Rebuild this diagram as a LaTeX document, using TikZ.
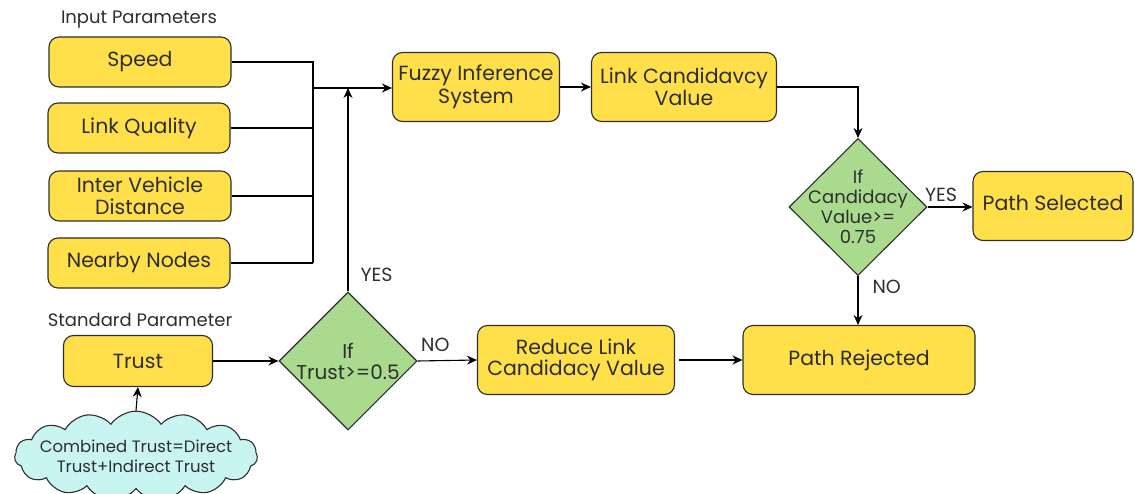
\documentclass[tikz,border=0pt]{standalone}
\usepackage{fontspec}
\setmainfont{Poppins}
\usetikzlibrary{arrows.meta,shapes.geometric,shapes.symbols}

\definecolor{boxyellow}{HTML}{FFE04B}
\definecolor{decgreen}{HTML}{A9DA8E}
\definecolor{cloudcyan}{HTML}{C8F5F1}
\definecolor{inkgray}{HTML}{2E2E2E}

\tikzset{
  parambox/.style={draw=inkgray,line width=1.1pt,fill=boxyellow,rounded corners=10pt,
    text=inkgray,align=center,font=\fontsize{20.5}{21.5}\selectfont,inner sep=0pt},
  decision/.style={draw=inkgray,line width=1.1pt,fill=decgreen,diamond,aspect=1,
    text=inkgray,align=center,inner sep=-40pt,minimum width=138pt,minimum height=138pt},
  flowline/.style={line width=1.1pt,draw=black},
  flowarrow/.style={flowline,-{Stealth[length=10pt,width=9pt]}},
  caption/.style={text=inkgray,font=\fontsize{18}{20}\selectfont,inner sep=0pt},
  branch/.style={text=inkgray,font=\fontsize{19}{20}\selectfont,inner sep=0pt}
}

\begin{document}
\begin{tikzpicture}[x=1pt,y=-1pt]
\useasboundingbox (0,0) rectangle (1135,494);

% input parameters
\node[caption] (inlabel) at (139,20) {Input Parameters};
\node[parambox,minimum width=182pt,minimum height=50pt] (speed) at (140,62) {Speed};
\node[parambox,minimum width=182pt,minimum height=50pt] (quality) at (139,128) {Link Quality};
\node[parambox,minimum width=182pt,minimum height=50pt] (distance) at (140,196) {Inter Vehicle\\Distance};
\node[parambox,minimum width=182pt,minimum height=50pt] (nearby) at (139,263) {Nearby Nodes};

% standard parameter
\node[caption] (stdlabel) at (140,320) {Standard Parameter};
\node[parambox,minimum width=149pt,minimum height=51pt] (trust) at (138,361) {Trust};
\node[cloud,cloud puffs=15,cloud puff arc=110,aspect=3.4,draw=inkgray,line width=1.1pt,
  fill=cloudcyan,text=inkgray,align=center,inner sep=-16pt,minimum width=243pt,
  minimum height=72pt,font=\fontsize{16.5}{20}\selectfont] (combined) at (136,456)
  {Combined Trust=Direct\\Trust+Indirect Trust};

% decisions
\node[decision,font=\fontsize{20}{21}\selectfont] (trustcheck) at (348,361) {If\\Trust>=0.5};
\node[decision,minimum height=137pt,font=\fontsize{18}{20}\selectfont] (valuecheck) at (858,207)
  {If\\Candidacy\\Value>=\\0.75};

% processing
\node[parambox,minimum width=167pt,minimum height=69pt] (fuzzy) at (476,87) {\raisebox{-3pt}{\shortstack{Fuzzy Inference\\System}}};
\node[parambox,minimum width=185pt,minimum height=69pt] (candval) at (684,87) {Link Candidavcy\\Value};
\node[parambox,minimum width=197pt,minimum height=69pt] (reduce) at (576,360) {Reduce Link\\Candidacy Value};
\node[parambox,minimum width=232pt,minimum height=69pt] (rejected) at (859,360) {Path Rejected};
\node[parambox,minimum width=160pt,minimum height=69pt] (selected) at (1053,206) {\raisebox{6pt}{Path Selected}};

% bus of the inputs
\coordinate (busmid) at (313,88);
\coordinate (busend) at (313,263);
\draw[flowline] (speed.east) -| (busend);
\draw[flowline] (quality.east) -- (quality.east -| busmid);
\draw[flowline] (distance.east) -- (distance.east -| busmid);
\draw[flowline] (nearby.east) -- (busend);
\draw[flowarrow] (busmid) -- (busmid -| fuzzy.west);

% connectors
\draw[flowarrow] (fuzzy) -- (candval);
\draw[flowarrow] (candval.east) -| (valuecheck.north);
\draw[flowarrow] (valuecheck.east) -- (selected.west |- valuecheck.east)
  node[branch,pos=0.3,above=5pt] {YES};
\draw[flowarrow] (valuecheck.south) -- (valuecheck.south |- rejected.north)
  node[branch,pos=0.22,right=14pt] {NO};
\draw[flowarrow] (combined.north) -- (trust.south);
\draw[flowarrow] (trust) -- (trustcheck.west);
\draw[flowarrow] (trustcheck.north) -- (trustcheck.north |- busmid)
  node[branch,pos=0.08,right=12pt] {YES};
\draw[flowarrow] (trustcheck.east) -- (reduce.west)
  node[branch,pos=0.3,above=9pt] {NO};
\draw[flowarrow] ([xshift=4pt]reduce.east) -- (rejected.west);

\end{tikzpicture}
\end{document}
